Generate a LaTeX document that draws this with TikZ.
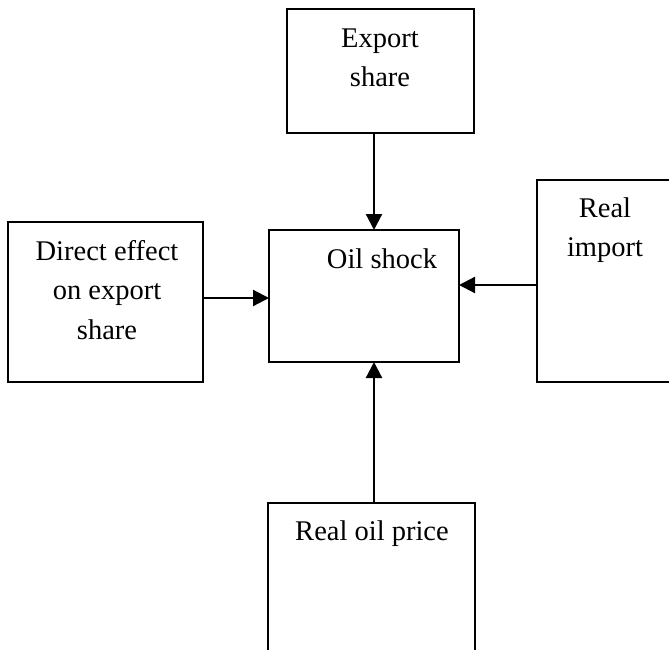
\documentclass[tikz,border=0pt]{standalone}
\usepackage{fontspec}
\setmainfont{Liberation Serif}
\usetikzlibrary{arrows.meta}
\begin{document}
\begin{tikzpicture}[x=1pt,y=-1pt,
  box/.style={draw,line width=1.8pt,inner sep=0pt,outer sep=0pt},
  lbl/.style={inner sep=0pt,align=center,font=\fontsize{28.5}{39.5}\selectfont},
  arr/.style={line width=2.2pt,-{Triangle[length=16pt,width=16pt]}}]
\useasboundingbox (0,0) rectangle (669,650);
\clip (0,0) rectangle (669,650);
\node[box,minimum width=187pt,minimum height=124pt] (export) at (380.5,71) {};
\node[box,minimum width=195pt,minimum height=160pt] (direct) at (105.5,302) {};
\node[box,minimum width=190pt,minimum height=132pt] (oil) at (364,296) {};
\node[box,minimum width=143pt,minimum height=202pt] (import) at (608.5,281) {};
\node[box,minimum width=207pt,minimum height=157pt] (price) at (371.5,581.5) {};
\node[lbl] (exportT) at (380,58) {Export\\share};
\node[lbl] (directT) at (107,290) {Direct effect\\on export\\share};
\node[lbl] (oilT) at (382,259) {Oil shock};
\node[lbl] (importT) at (605,230) {Real\\import};
\node[lbl] (priceT) at (372,534) {Real oil price};
\draw[arr] (export.south -| 374,0) -- (oil.north -| 374,0);
\draw[arr] (price.north -| 374,0) -- (oil.south -| 374,0);
\draw[arr] (direct.east |- 0,298) -- (oil.west |- 0,298);
\draw[arr] (import.west |- 0,285) -- (oil.east |- 0,285);
\end{tikzpicture}
\end{document}
